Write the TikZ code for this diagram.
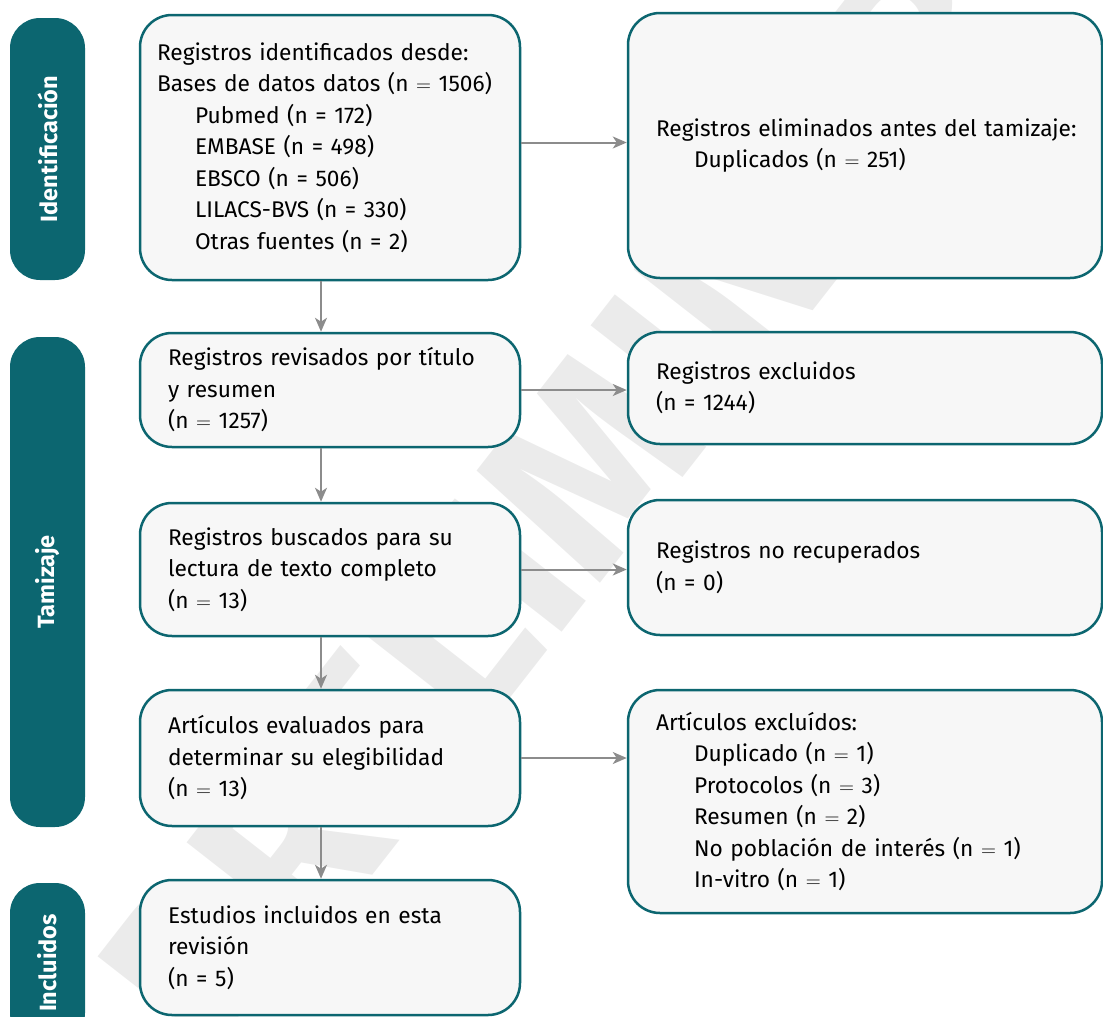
\documentclass[tikz,border=0pt]{standalone}
\usepackage{fontspec}
\setmainfont{Fira Sans}
\usepackage{tikz}
\usetikzlibrary{shapes, arrows.meta}

\definecolor{petrol}{RGB}{12,102,112}
\definecolor{boxfill}{RGB}{247,247,247}
\definecolor{flowgray}{RGB}{140,140,140}
\definecolor{markgray}{RGB}{235,235,235}

\tikzset{
  stage/.style={fill=petrol, rounded corners=30pt, minimum height=75pt, rotate=90,
    text=white, font=\fontsize{23.5}{26}\selectfont\bfseries},
  rec/.style={draw=petrol, line width=2.5pt, fill=boxfill, rounded corners=32pt,
    align=left, inner xsep=28pt, inner ysep=0pt, text width=324pt,
    font=\fontsize{22.7}{31.5}\selectfont},
  wide/.style={rec, text width=418pt},
  flow/.style={draw=flowgray, line width=2pt, -{Stealth[length=14pt,width=12pt,inset=4pt]}},
  wmark/.style={text=markgray, font=\fontsize{240}{240}\selectfont\bfseries, rotate=52}
}

\begin{document}
\begin{tikzpicture}[x=1pt,y=-1pt]
\useasboundingbox (0,0) rectangle (1103,1017);

% watermark
\node[wmark] (wm) at (560,500) {PRELIMINAR};

% stages
\node[stage, minimum width=262pt] (s1) at (47.5,149) {Identificación};
\node[stage, minimum width=490pt] (s2) at (47.5,582) {Tamizaje};
\node[stage, minimum width=160pt] (s3) at (47.5,963) {Incluidos};

% left column
\node[rec, inner xsep=17pt, text width=346pt, minimum height=265pt] (b1) at (330,147.5)
  {Registros identificados desde:\\
   Bases de datos datos (n $=$ 1506)\\
   \hspace*{38pt}Pubmed (n = 172)\\
   \hspace*{38pt}EMBASE (n = 498)\\
   \hspace*{38pt}EBSCO (n = 506)\\
   \hspace*{38pt}LILACS-BVS (n = 330)\\
   \hspace*{38pt}Otras fuentes (n = 2)};
\node[rec, minimum height=114pt] (b3) at (330,390)
  {Registros revisados por título\\ y resumen\\ (n $=$ 1257)};
\node[rec, minimum height=133pt] (b5) at (330,569.5)
  {Registros buscados para su\\ lectura de texto completo\\ (n $=$ 13)};
\node[rec, minimum height=136pt] (b7) at (330,758)
  {Artículos evaluados para\\ determinar su elegibilidad\\ (n $=$ 13)};
\node[rec, minimum height=135pt] (b9) at (330,947.5)
  {Estudios incluidos en esta\\ revisión\\ (n = 5)};

% right column
\node[wide, minimum height=265pt] (b2) at (865,145.5)
  {\mbox{Registros eliminados antes del tamizaje:}\\
   \hspace*{38pt}Duplicados (n $=$ 251)};
\node[wide, minimum height=112pt] (b4) at (865,388)
  {Registros excluidos\\ (n = 1244)};
\node[wide, minimum height=135pt] (b6) at (865,567.5)
  {Registros no recuperados\\ (n = 0)};
\node[wide, minimum height=223pt] (b8) at (865,801.5)
  {Artículos excluídos:\\
   \hspace*{38pt}Duplicado (n $=$ 1)\\
   \hspace*{38pt}Protocolos (n $=$ 3)\\
   \hspace*{38pt}Resumen (n $=$ 2)\\
   \hspace*{38pt}No población de interés (n $=$ 1)\\
   \hspace*{38pt}In-vitro (n $=$ 1)};

% flow
\draw[flow] ([xshift=-9pt]b1.south) -- ([xshift=-9pt]b3.north);
\draw[flow] ([xshift=-9pt]b3.south) -- ([xshift=-9pt]b5.north);
\draw[flow] ([xshift=-9pt]b5.south) -- ([xshift=-9pt]b7.north);
\draw[flow] ([xshift=-9pt]b7.south) -- ([xshift=-9pt]b9.north);
\draw[flow] ([yshift=5pt]b1.east) -- ([yshift=5pt]b1.east -| b2.west);
\draw[flow] (b3.east) -- (b3.east -| b4.west);
\draw[flow] (b5.east) -- (b5.east -| b6.west);
\draw[flow] (b7.east) -- (b7.east -| b8.west);
\end{tikzpicture}
\end{document}
